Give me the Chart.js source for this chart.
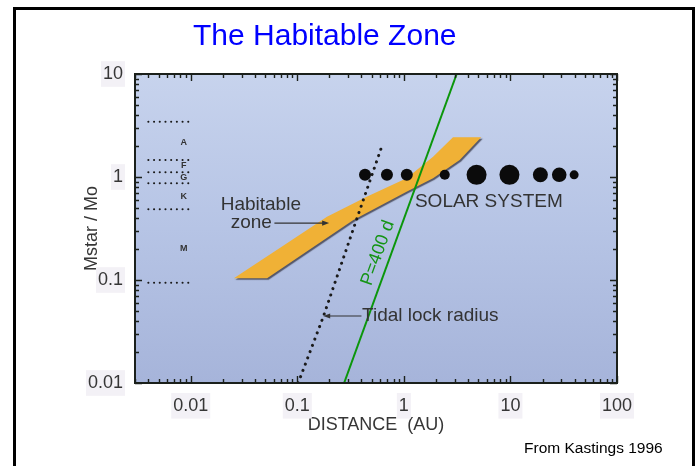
<!DOCTYPE html>
<html>
<head>
<meta charset="utf-8">
<title>The Habitable Zone</title>
<script src="https://cdn.jsdelivr.net/npm/chart.js@4.4.1/dist/chart.umd.min.js"></script>
<style>
  html, body { margin: 0; padding: 0; background: #ffffff; }
  canvas { display: block; }
</style>
</head>
<body>
<canvas id="hz" width="698" height="466"></canvas>
<script>
// ---- data: distance in AU, stellar mass in solar masses ----
const planetNames = ['Mercury', 'Venus', 'Earth', 'Mars', 'Jupiter', 'Saturn', 'Uranus', 'Neptune', 'Pluto'];
const planetDist  = [0.432, 0.694, 1.066, 2.42, 4.81, 9.79, 19.1, 28.7, 39.6];
const planetMass  = [1.05, 1.05, 1.05, 1.05, 1.05, 1.05, 1.05, 1.05, 1.05];

// habitable zone outline: outer edge upward, then inner edge back down
const zoneDist = [0.0254, 0.0521, 0.336, 1.06, 1.88, 3.34, 5.32, 2.89, 1.88, 1.06, 0.448, 0.19, 0.080, 0.0254];
const zoneMass = [0.104, 0.104, 0.383, 0.72, 0.97, 1.46, 2.43, 2.43, 1.57, 0.97, 0.644, 0.412, 0.227, 0.104];

// tidal lock radius
const tidalDist = [0.102, 0.175, 0.364, 0.637];
const tidalMass = [0.01, 0.0437, 0.40, 2.14];

// orbit with a 400 day period
const periodDist = [0.275, 3.13];
const periodMass = [0.01, 10];

// spectral class boundaries and class letters
const classBoundMass = [3.44, 1.46, 1.11, 0.87, 0.486, 0.094];
const classBoundDist = [0.0040, 0.0107];
const classLetters   = ['A', 'F', 'G', 'K', 'M'];
const classLetterMass = [2.15, 1.28, 0.98, 0.64, 0.2];
const classLetterDist = 0.0086;

// axis ticks
const xTickValues = [0.01, 0.1, 1, 10, 100];
const xTickLabels = ['0.01', '0.1', '1', '10', '100'];
const yTickValues = [0.01, 0.1, 1, 10];
const yTickLabels = ['0.01', '0.1', '1', '10'];

// ---- helpers ----
const FONT = '"Liberation Sans", Arial, Helvetica, sans-serif';
const pts = (xs, ys) => xs.map((v, i) => ({ x: v, y: ys[i] }));

function minorValues(min, max) {
  const out = [];
  for (let e = Math.floor(Math.log10(min)); e <= Math.ceil(Math.log10(max)); e++) {
    for (let k = 2; k <= 9; k++) {
      const v = k * Math.pow(10, e);
      if (v >= min * 0.999 && v <= max * 1.001) out.push(v);
    }
  }
  return out;
}

function arrow(ctx, x1, y1, x2, y2) {
  const ang = Math.atan2(y2 - y1, x2 - x1);
  ctx.beginPath();
  ctx.moveTo(x1, y1);
  ctx.lineTo(x2 - 5 * Math.cos(ang), y2 - 5 * Math.sin(ang));
  ctx.stroke();
  ctx.beginPath();
  ctx.moveTo(x2, y2);
  ctx.lineTo(x2 - 7 * Math.cos(ang) + 2.6 * Math.sin(ang), y2 - 7 * Math.sin(ang) - 2.6 * Math.cos(ang));
  ctx.lineTo(x2 - 7 * Math.cos(ang) - 2.6 * Math.sin(ang), y2 - 7 * Math.sin(ang) + 2.6 * Math.cos(ang));
  ctx.closePath();
  ctx.fill();
}

// ---- decoration plugin: plot background, ticks on all sides, labels ----
const decor = {
  id: 'decor',
  beforeDraw(chart) {
    const { ctx, chartArea: a } = chart;
    const g = ctx.createLinearGradient(0, a.top, 0, a.bottom);
    g.addColorStop(0, '#c7d3ed');
    g.addColorStop(0.5, '#b6c4e5');
    g.addColorStop(1, '#a6b4da');
    ctx.save();
    ctx.fillStyle = g;
    ctx.fillRect(a.left, a.top, a.right - a.left, a.bottom - a.top);
    ctx.restore();
  },
  beforeDatasetsDraw(chart) {
    // soft drop shadow under the habitable zone band (drawn first)
    const ctx = chart.ctx;
    ctx.save();
    ctx.shadowColor = 'rgba(60, 60, 75, 0.8)';
    ctx.shadowOffsetX = 1.5;
    ctx.shadowOffsetY = 1.5;
    ctx.shadowBlur = 1;
  },
  afterDatasetDraw(chart, args) {
    if (args.index === 0) chart.ctx.restore();
  },
  afterDatasetsDraw(chart) {
    const { ctx, chartArea: a, scales: { x, y } } = chart;
    ctx.save();

    // frame
    ctx.strokeStyle = '#1b201b';
    ctx.lineWidth = 2;
    ctx.strokeRect(a.left, a.top, a.right - a.left, a.bottom - a.top);

    // inward tick marks on all four sides
    ctx.lineWidth = 1.4;
    ctx.beginPath();
    const xt = (v, len) => {
      const p = Math.round(x.getPixelForValue(v)) + 0.5;
      ctx.moveTo(p, a.bottom); ctx.lineTo(p, a.bottom - len);
      ctx.moveTo(p, a.top); ctx.lineTo(p, a.top + len);
    };
    const yt = (v, len) => {
      const p = Math.round(y.getPixelForValue(v)) + 0.5;
      ctx.moveTo(a.left, p); ctx.lineTo(a.left + len, p);
      ctx.moveTo(a.right, p); ctx.lineTo(a.right - len, p);
    };
    minorValues(x.min, x.max).forEach(v => xt(v, 4));
    xTickValues.forEach(v => xt(v, 7));
    minorValues(y.min, y.max).forEach(v => yt(v, 4));
    yTickValues.forEach(v => yt(v, 7));
    ctx.stroke();

    // text annotations inside the plot
    ctx.fillStyle = '#333333';
    ctx.strokeStyle = '#333333';
    ctx.lineWidth = 1.1;
    ctx.textBaseline = 'middle';
    ctx.textAlign = 'left';
    ctx.font = '19px ' + FONT;
    ctx.fillText('Habitable', x.getPixelForValue(0.0191), y.getPixelForValue(0.535));
    ctx.fillText('zone', x.getPixelForValue(0.0237), y.getPixelForValue(0.357));
    arrow(ctx, x.getPixelForValue(0.061), y.getPixelForValue(0.357),
               x.getPixelForValue(0.199), y.getPixelForValue(0.357));

    ctx.fillText('SOLAR SYSTEM', x.getPixelForValue(1.27), y.getPixelForValue(0.572));

    ctx.fillText('Tidal lock radius', x.getPixelForValue(0.405), y.getPixelForValue(0.0447));
    arrow(ctx, x.getPixelForValue(0.40), y.getPixelForValue(0.0447),
               x.getPixelForValue(0.175), y.getPixelForValue(0.0447));

    // spectral class letters
    ctx.font = 'bold 9px ' + FONT;
    ctx.textAlign = 'center';
    classLetters.forEach((c, i) => {
      ctx.fillText(c, x.getPixelForValue(classLetterDist), y.getPixelForValue(classLetterMass[i]));
    });

    // period label, parallel to the P = 400 d line
    const ang = Math.atan2(
      y.getPixelForValue(periodMass[1]) - y.getPixelForValue(periodMass[0]),
      x.getPixelForValue(periodDist[1]) - x.getPixelForValue(periodDist[0]));
    ctx.save();
    ctx.translate(x.getPixelForValue(0.571), y.getPixelForValue(0.183));
    ctx.rotate(ang);
    ctx.fillStyle = '#149414';
    ctx.font = '18px ' + FONT;
    ctx.fillText('P=400 d', 0, 0);
    ctx.restore();

    ctx.restore();
  },
  afterDraw(chart) {
    const ctx = chart.ctx;
    ctx.save();
    // page border
    ctx.strokeStyle = '#000000';
    ctx.lineWidth = 3;
    ctx.beginPath();
    ctx.moveTo(14.5, 466); ctx.lineTo(14.5, 8.5); ctx.lineTo(693.5, 8.5); ctx.lineTo(693.5, 466);
    ctx.stroke();
    // heading
    ctx.fillStyle = '#0000ff';
    ctx.font = '30px ' + FONT;
    ctx.textAlign = 'left';
    ctx.textBaseline = 'alphabetic';
    ctx.fillText('The Habitable Zone', 193, 45);
    // source note
    ctx.fillStyle = '#000000';
    ctx.font = '15.5px ' + FONT;
    ctx.fillText('From Kastings 1996', 524, 453);
    ctx.restore();
  }
};

const dotted = (data, width, dash, order) => ({
  data, order,
  borderColor: '#1a1a1a',
  borderWidth: width,
  borderDash: dash,
  borderCapStyle: 'round',
  pointRadius: 0,
  fill: false
});

const datasets = [
  {
    label: 'Habitable zone',
    data: pts(zoneDist, zoneMass),
    order: 10,
    backgroundColor: '#f0b136',
    borderColor: 'rgba(0,0,0,0)',
    borderWidth: 1,
    pointRadius: 0,
    fill: 'shape'
  },
  ...classBoundMass.map(m => dotted(pts(classBoundDist, [m, m]), 2, [0.1, 5.6], 9)),
  Object.assign(dotted(pts(tidalDist, tidalMass), 3, [0.1, 6.6], 8), { label: 'Tidal lock radius' }),
  {
    label: 'Solar system',
    data: pts(planetDist, planetMass),
    order: 2,
    showLine: false,
    pointRadius: [6, 6, 6, 5, 10, 10, 7.5, 7.3, 4.5],
    pointBackgroundColor: '#0b0b0b',
    pointBorderWidth: 0
  },
  {
    label: 'P=400 d',
    data: pts(periodDist, periodMass),
    order: 1,
    borderColor: '#0b960b',
    borderWidth: 2,
    pointRadius: 0,
    fill: false
  }
];

new Chart(document.getElementById('hz'), {
  type: 'line',
  data: { datasets },
  options: {
    responsive: false,
    animation: false,
    devicePixelRatio: 1,
    layout: { padding: { top: 74, right: 81, bottom: 0, left: 0 } },
    plugins: {
      legend: { display: false },
      tooltip: { enabled: false },
      title: { display: false }
    },
    scales: {
      x: {
        type: 'logarithmic',
        position: 'bottom',
        min: 0.003,
        max: 100,
        grid: { display: false },
        border: { display: false },
        afterBuildTicks: s => { s.ticks = xTickValues.map(v => ({ value: v, major: true })); },
        afterFit: s => { s.height = 83; },
        ticks: {
          autoSkip: false,
          maxRotation: 0,
          padding: 4,
          color: '#363636',
          font: { family: FONT, size: 18 },
          showLabelBackdrop: true,
          backdropColor: '#f3f1f6',
          backdropPadding: 2,
          callback: v => xTickLabels[xTickValues.indexOf(v)] ?? ''
        },
        title: {
          display: true,
          text: 'DISTANCE  (AU)',
          color: '#363636',
          font: { family: FONT, size: 18 },
          padding: { top: 0, bottom: 30 }
        }
      },
      y: {
        type: 'logarithmic',
        position: 'left',
        min: 0.01,
        max: 10,
        grid: { display: false },
        border: { display: false },
        afterBuildTicks: s => { s.ticks = yTickValues.map(v => ({ value: v, major: true })); },
        afterFit: s => { s.width = 135; },
        ticks: {
          autoSkip: false,
          padding: 4,
          color: '#363636',
          font: { family: FONT, size: 18 },
          showLabelBackdrop: true,
          backdropColor: '#f3f1f6',
          backdropPadding: 2,
          callback: v => yTickLabels[yTickValues.indexOf(v)] ?? ''
        },
        title: {
          display: true,
          text: 'Mstar / Mo',
          color: '#363636',
          font: { family: FONT, size: 18 },
          padding: { top: 81, bottom: 0 }
        }
      }
    }
  },
  plugins: [decor]
});
</script>
</body>
</html>
